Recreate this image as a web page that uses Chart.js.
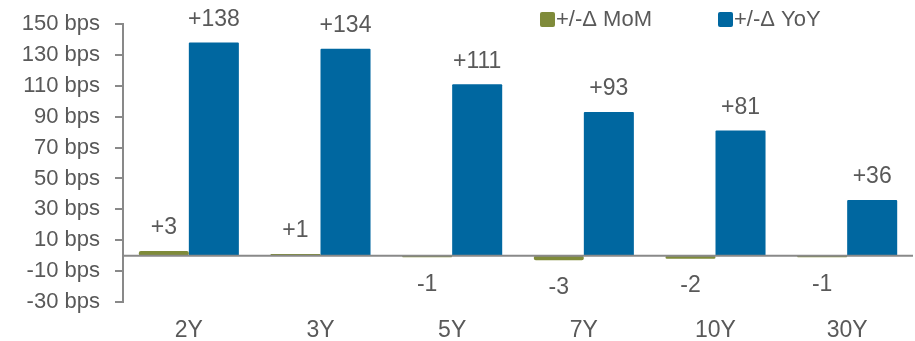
<!DOCTYPE html>
<html>
<head>
<meta charset="utf-8">
<script src="https://cdn.jsdelivr.net/npm/chart.js@4.4.1/dist/chart.umd.min.js"></script>
<style>
  html, body { margin: 0; padding: 0; background: #ffffff; }
  #wrap { width: 915px; height: 341px; position: relative; }
</style>
</head>
<body>
<div id="wrap"><canvas id="chart"></canvas></div>
<script>
// Tenors on the x axis
const tenors = ['2Y', '3Y', '5Y', '7Y', '10Y', '30Y'];
// Month-on-month change, bps
const momChange = [3, 1, -1, -3, -2, -1];
// Year-on-year change, bps
const yoyChange = [138, 134, 111, 93, 81, 36];
// Y axis tick values, bps
const yTicks = [150, 130, 110, 90, 70, 50, 30, 10, -10, -30];

const seriesNames = ['+/-\u0394 MoM', '+/-\u0394 YoY'];
const seriesColors = ['#7F8B3A', '#0067A0'];
const textColor = '#595959';
const axisColor = '#898989';
const fontFamily = '"Liberation Sans", Arial, sans-serif';

const signed = v => (v > 0 ? '+' : '') + v;

// Zero baseline, value labels and legend
const decorations = {
  id: 'decorations',
  afterDatasetsDraw(chart) {
    const ctx = chart.ctx;
    const area = chart.chartArea;
    const y = chart.scales.y;
    const y0 = y.getPixelForValue(0);

    ctx.save();
    ctx.strokeStyle = axisColor;
    ctx.lineWidth = 2;
    ctx.beginPath();
    ctx.moveTo(area.left, y0);
    ctx.lineTo(area.right, y0);
    ctx.stroke();

    ctx.fillStyle = textColor;
    ctx.font = '23px ' + fontFamily;
    ctx.textAlign = 'center';
    ctx.textBaseline = 'middle';
    chart.data.datasets.forEach((ds, di) => {
      const meta = chart.getDatasetMeta(di);
      meta.data.forEach((bar, i) => {
        const v = ds.data[i];
        const end = y.getPixelForValue(v);
        const ly = v >= 0 ? Math.min(end, y0) - 23 : Math.max(end, y0) + 27;
        ctx.fillText(signed(v), bar.x, ly);
      });
    });

    // legend
    ctx.font = '22px ' + fontFamily;
    ctx.textAlign = 'left';
    const legendX = [540, 718];
    seriesNames.forEach((name, i) => {
      ctx.fillStyle = seriesColors[i];
      ctx.beginPath();
      ctx.roundRect(legendX[i], 12, 15, 15, 2);
      ctx.fill();
      ctx.fillStyle = textColor;
      ctx.fillText(name, legendX[i] + 16, 20);
    });
    ctx.restore();
  }
};

new Chart(document.getElementById('chart'), {
  type: 'bar',
  data: {
    labels: tenors,
    datasets: [
      { label: seriesNames[0], data: momChange, backgroundColor: seriesColors[0], borderRadius: 2, borderSkipped: false },
      { label: seriesNames[1], data: yoyChange, backgroundColor: seriesColors[1], borderRadius: 1, borderSkipped: 'bottom' }
    ]
  },
  options: {
    responsive: true,
    maintainAspectRatio: false,
    animation: false,
    layout: { padding: { top: 24, right: 2, left: 0, bottom: 0 } },
    datasets: { bar: { categoryPercentage: 0.76, barPercentage: 1.0 } },
    plugins: { legend: { display: false }, tooltip: { enabled: false } },
    scales: {
      x: {
        grid: { display: false, drawTicks: false },
        border: { display: false },
        ticks: { color: textColor, font: { family: fontFamily, size: 23 }, padding: 15, maxRotation: 0 },
        afterFit(scale) {
          scale.height = 39;
          scale.paddingLeft = 0;
          scale.paddingRight = 0;
        }
      },
      y: {
        min: -30,
        max: 150,
        afterBuildTicks(scale) { scale.ticks = yTicks.map(v => ({ value: v })); },
        grid: { drawOnChartArea: false, drawTicks: true, tickLength: 8, color: axisColor, lineWidth: 2 },
        border: { display: true, color: axisColor, width: 2 },
        ticks: {
          color: textColor,
          font: { family: fontFamily, size: 22 },
          padding: 15,
          callback: v => v + ' bps'
        },
        afterFit(scale) {
          scale.width = 123;
          scale.paddingTop = 0;
          scale.paddingBottom = 0;
        }
      }
    }
  },
  plugins: [decorations]
});
</script>
</body>
</html>
